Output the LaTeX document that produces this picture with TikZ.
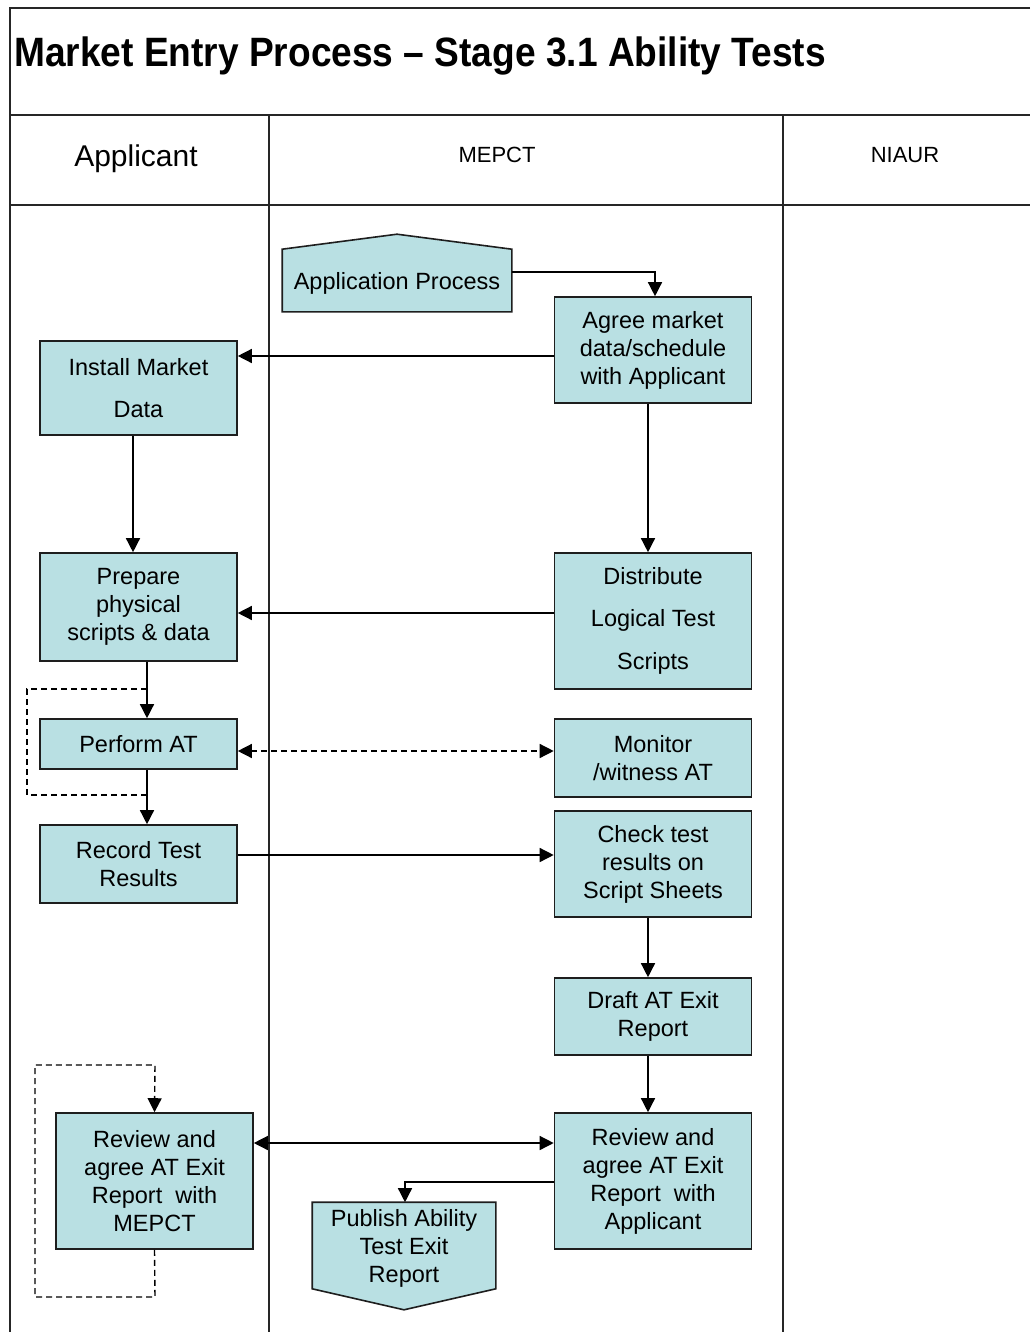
\documentclass[tikz,border=0pt]{standalone}
\usepackage{fontspec}
\setmainfont{Liberation Sans}
\usetikzlibrary{arrows.meta,calc}
\definecolor{boxfill}{RGB}{185,224,227}
\definecolor{boxline}{RGB}{30,30,30}
\begin{document}
\begin{tikzpicture}[x=1pt,y=-1pt,
  box/.style={draw=boxline,line width=1.6pt,fill=boxfill,inner sep=0pt,align=center,
    minimum width=197pt,font=\fontsize{23.5}{28}\selectfont},
  arr/.style={line width=1.4pt,-{Triangle[length=14pt,width=14pt]}},
  barr/.style={line width=1.4pt,{Triangle[length=14pt,width=14pt]}-{Triangle[length=14pt,width=14pt]}},
  plain/.style={line width=1.4pt},
  dsh/.style={dash pattern=on 6pt off 4pt},
  frame/.style={line width=1.4pt,draw=black!85}]
\useasboundingbox (0,0) rectangle (1030,1332);
% frame
\draw[frame] (1030,8) -- (10,8) -- (10,1332);
\draw[frame] (10,115) -- (1030,115);
\draw[frame] (10,205) -- (1030,205);
\draw[frame] (269,115) -- (269,1332);
\draw[frame] (783,115) -- (783,1332);
% title and headers
\node[anchor=west,inner sep=0pt,font=\bfseries\fontsize{41}{48}\selectfont] (title) at (14,56) {\scalebox{0.905}[1]{Market Entry Process -- Stage 3.1 Ability Tests}};
\node[font=\fontsize{30}{36}\selectfont] (hA) at (136,159) {Applicant};
\node[font=\fontsize{22}{26}\selectfont] (hM) at (497,155) {MEPCT};
\node[font=\fontsize{22}{26}\selectfont] (hN) at (905,155) {NIAUR};
% nodes
\node[box,draw=none,fill=none,minimum width=228pt,minimum height=61pt] (app) at (397,280.5) {};
\fill[boxfill,draw=boxline,line width=1.6pt] (app.south west) -- (app.south east) -- (app.north east) -- ($(app.north)+(0,-15)$) -- (app.north west) -- cycle;
\node[font=\fontsize{23.5}{28}\selectfont] at ($(app.center)+(0,3)$) {Application Process};
\node[box,minimum height=106pt] (agree) at (653,350) {Agree market\\data/schedule\\with Applicant};
\node[box,minimum height=94pt] (install) at (138.5,388) {Install Market\\[14pt]Data};
\node[box,minimum height=108pt] (prepare) at (138.5,607) {Prepare\\physical\\scripts \& data};
\node[box,minimum height=136pt] (distribute) at (653,621) {Distribute\\[14pt]Logical Test\\[15pt]Scripts};
\node[box,minimum height=50pt] (perform) at (138.5,744) {Perform AT};
\node[box,minimum height=78pt] (monitor) at (653,758) {Monitor\\/witness AT};
\node[box,minimum height=78pt] (record) at (138.5,864) {Record Test\\Results};
\node[box,minimum height=106pt] (check) at (653,864) {Check test\\results on\\Script Sheets};
\node[box,minimum height=77pt] (draft) at (653,1016.5) {Draft AT Exit\\Report};
\node[box,minimum height=136pt] (reviewA) at (154.5,1181) {Review and\\agree AT Exit\\Report~~with\\MEPCT};
\node[box,minimum height=136pt] (reviewM) at (653,1181) {Review and\\agree AT Exit\\Report~~with\\Applicant};
\node[box,draw=none,fill=none,minimum width=182pt,minimum height=85pt] (publish) at (404,1245.5) {};
\fill[boxfill,draw=boxline,line width=1.6pt] (publish.north west) -- (publish.north east) -- (publish.south east) -- ($(publish.south)+(0,21)$) -- (publish.south west) -- cycle;
\node[align=center,font=\fontsize{23.5}{28}\selectfont] at ($(publish.center)+(0,3)$) {Publish Ability\\Test Exit\\Report};
% connectors
\coordinate (c1) at ([yshift=8.5pt]app.east);
\draw[arr] (c1) -| ([xshift=2pt]agree.north);
\coordinate (c2) at ([yshift=-6pt]agree.west);
\draw[arr] (c2) -- (c2 -| install.east);
\draw[arr] ([xshift=-5pt]agree.south) -- ([xshift=-5pt]distribute.north);
\draw[arr] ([xshift=-5.5pt]install.south) -- ([xshift=-5.5pt]prepare.north);
\coordinate (c5) at ([yshift=8pt]distribute.west);
\draw[arr] (c5) -- (c5 -| prepare.east);
\draw[arr] ([xshift=8.5pt]prepare.south) -- ([xshift=8.5pt]perform.north);
\coordinate (d1) at (147,689);
\coordinate (d2) at (147,795);
\draw[plain,dsh] (d1) -- (27,689) -- (27,795) -- (d2);
\draw[arr] ([xshift=8.5pt]perform.south) -- ([xshift=8.5pt]record.north);
\coordinate (c9) at ([yshift=-7pt]perform.east);
\draw[barr,dsh] (c9) -- (c9 -| monitor.west);
\coordinate (c10) at ([yshift=9pt]record.east);
\draw[arr] (c10) -- (c10 -| check.west);
\draw[arr] ([xshift=-5pt]check.south) -- ([xshift=-5pt]draft.north);
\draw[arr] ([xshift=-5pt]draft.south) -- ([xshift=-5pt]reviewM.north);
\coordinate (c13) at ([yshift=38pt]reviewA.east);
\draw[barr] (c13) -- (c13 -| reviewM.west);
\coordinate (c14) at ([yshift=-1pt]reviewM.west);
\draw[arr] (c14) -| ([xshift=1pt]publish.north);
\draw[arr,dsh] (reviewA.south) -- (155,1297) -- (35,1297) -- (35,1065) -- (155,1065) -- (reviewA.north);
\end{tikzpicture}
\end{document}
